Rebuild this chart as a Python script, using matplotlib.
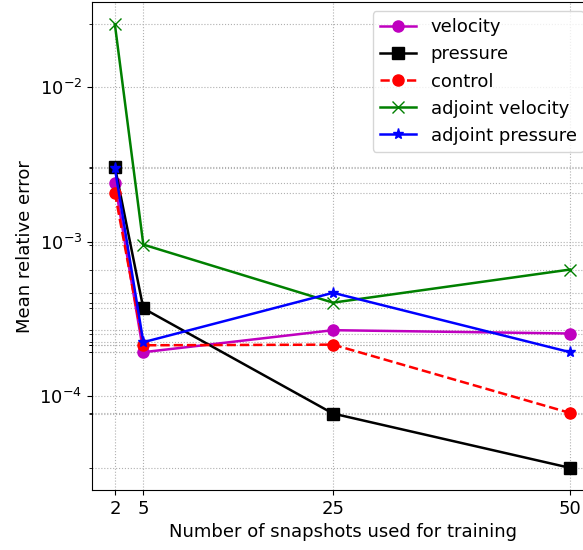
import numpy as np
import matplotlib
matplotlib.use('Agg')
import matplotlib.pyplot as plt

# number of snapshots
n_snap = [2, 5, 25, 50]

# mean relative errors
err_velocity = [2.41e-3, 1.93e-4, 2.68e-4, 2.55e-4]
err_pressure = [3.07e-3, 3.71e-4, 7.73e-5, 3.44e-5]
err_control = [2.08e-3, 2.14e-4, 2.16e-4, 7.8e-5]
err_adj_velocity = [2.56e-2, 9.6e-4, 4.04e-4, 6.62e-4]
err_adj_pressure = [3.0e-3, 2.24e-4, 4.68e-4, 1.93e-4]

plt.rcParams['font.size'] = 13

fig = plt.figure(figsize=(5.83, 5.5), dpi=100)
# axes go a bit past the right edge, like the cropped original
ax = fig.add_axes([0.158, 0.109, 0.859, 0.887])

ax.semilogy(n_snap, err_velocity, 'mo-', lw=1.8, ms=8, label='velocity')
ax.semilogy(n_snap, err_pressure, 'ks-', lw=1.8, ms=8, label='pressure')
ax.semilogy(n_snap, err_control, 'ro--', lw=1.8, ms=8, label='control')
ax.semilogy(n_snap, err_adj_velocity, 'gx-', lw=1.8, ms=8, label='adjoint velocity')
ax.semilogy(n_snap, err_adj_pressure, 'b*-', lw=1.8, ms=8, label='adjoint pressure')

# minor ticks / grid lines at every data value
all_vals = np.concatenate([err_velocity, err_pressure, err_control,
                           err_adj_velocity, err_adj_pressure])
ax.set_yticks(all_vals, minor=True)
ax.set_yticklabels([], minor=True)
ax.set_xticks(n_snap)
ax.grid(which='both', linestyle=':', color='#b0b0b0')

ax.set_xlabel('Number of snapshots used for training')
ax.set_ylabel('Mean relative error')
ax.legend(loc='upper right')

fig.savefig('out.png', dpi=100)
